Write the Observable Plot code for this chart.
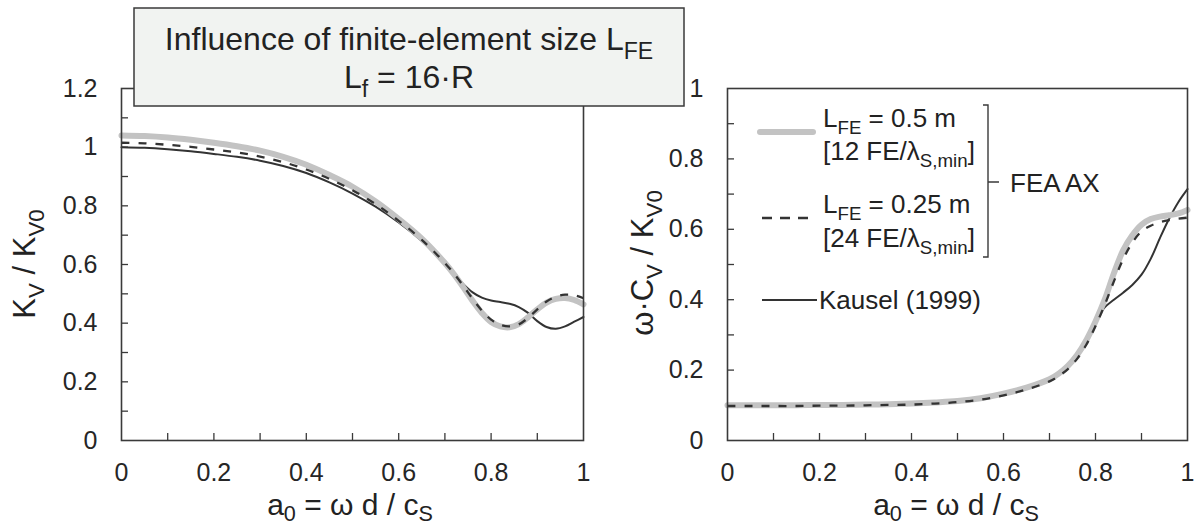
<!DOCTYPE html>
<html><head><meta charset="utf-8">
<script src="https://cdn.jsdelivr.net/npm/d3@7"></script>
<script src="https://cdn.jsdelivr.net/npm/@observablehq/plot@0.6"></script>
<style>
html,body{margin:0;padding:0;background:#fff;}
#wrap{position:relative;width:1197px;height:529px;overflow:hidden;font-family:"Liberation Sans",Arial,Helvetica,sans-serif;}
#left,#right,#over{position:absolute;top:0;}
#left{left:0}
#right{left:600px}
#over{left:0;pointer-events:none}
#over text{white-space:pre}
</style></head><body><div id="wrap"><div id="left"></div><div id="right"></div><svg id="over" width="1197" height="529"></svg></div>
<script>
// dimensionless frequency a0
const a0 = [0,0.05,0.1,0.15,0.2,0.25,0.3,0.35,0.4,0.45,0.5,0.55,0.6,0.65,0.7,0.72,0.74,0.76,0.78,0.8,0.82,0.84,0.86,0.88,0.9,0.92,0.94,0.96,0.98,1.0];

// Left panel: K_V / K_V0
const kFE05   = [1.040,1.038,1.033,1.025,1.015,1.003,0.988,0.967,0.940,0.905,0.865,0.815,0.755,0.688,0.605,0.566,0.522,0.476,0.435,0.404,0.389,0.386,0.397,0.420,0.447,0.470,0.483,0.486,0.479,0.464];
const kFE025  = [1.015,1.013,1.008,1.001,0.992,0.982,0.968,0.949,0.924,0.892,0.853,0.806,0.749,0.684,0.605,0.568,0.527,0.483,0.443,0.412,0.394,0.389,0.396,0.418,0.447,0.474,0.490,0.497,0.495,0.485];
const kKausel = [1.000,0.998,0.993,0.986,0.977,0.967,0.954,0.936,0.912,0.880,0.842,0.797,0.743,0.680,0.605,0.568,0.533,0.505,0.487,0.477,0.472,0.466,0.455,0.435,0.407,0.387,0.381,0.389,0.405,0.421];

// Right panel: omega*C_V / K_V0
const cFE05   = [0.100,0.100,0.100,0.100,0.101,0.101,0.102,0.103,0.105,0.108,0.112,0.120,0.133,0.150,0.174,0.190,0.212,0.243,0.285,0.338,0.400,0.475,0.540,0.583,0.613,0.629,0.636,0.640,0.645,0.655];
const cFE025  = [0.098,0.098,0.098,0.098,0.099,0.099,0.100,0.101,0.102,0.105,0.109,0.116,0.128,0.145,0.168,0.183,0.203,0.232,0.272,0.325,0.385,0.452,0.515,0.562,0.594,0.610,0.620,0.626,0.630,0.633];
const cKausel = [0.100,0.100,0.100,0.100,0.101,0.101,0.102,0.103,0.105,0.108,0.112,0.120,0.133,0.150,0.174,0.190,0.212,0.243,0.285,0.335,0.378,0.400,0.420,0.442,0.471,0.516,0.575,0.630,0.677,0.714];

// ticks
const xTicks = [0,0.2,0.4,0.6,0.8,1];
const xMinor = [0.1,0.2,0.3,0.4,0.5,0.6,0.7,0.8,0.9];
const kTicks = [0,0.2,0.4,0.6,0.8,1,1.2];
const kMinor = [0.1,0.2,0.3,0.4,0.5,0.6,0.7,0.8,0.9,1.0,1.1];
const cTicks = [0,0.2,0.4,0.6,0.8,1];
const cMinor = [0.1,0.2,0.3,0.4,0.5,0.6,0.7,0.8,0.9];

const fmt = d3.format("~g");
const H = 529, MT = 88, MB = 89;

function panel({width, marginLeft, marginRight, yDomain, yTicks, yMinor, fe05, fe025, kausel}) {
  const rows = vals => a0.map((a, i) => ({a, v: vals[i]}));
  const fw = width - marginLeft - marginRight, fh = H - MT - MB;
  return Plot.plot({
    width, height: H, marginLeft, marginRight, marginTop: MT, marginBottom: MB,
    style: {fontFamily: "'Liberation Sans', Arial, sans-serif", color: "#262626", background: "transparent", overflow: "visible"},
    x: {domain: [0, 1]},
    y: {domain: yDomain},
    marks: [
      Plot.ruleX(xMinor, {x: d => d, insetTop: fh - 7, stroke: "#3a3a3a", strokeWidth: 1.3}),
      Plot.ruleY(yMinor, {y: d => d, insetRight: fw - 7, stroke: "#3a3a3a", strokeWidth: 1.3}),
      Plot.axisX({ticks: xTicks, tickSize: 0, tickPadding: 23, tickFormat: fmt, fontSize: 25, label: null}),
      Plot.axisY({ticks: yTicks, tickSize: 0, tickPadding: 24, tickFormat: fmt, fontSize: 25, label: null}),
      Plot.line(rows(kausel), {x: "a", y: "v", stroke: "#333", strokeWidth: 2, curve: "catmull-rom"}),
      Plot.line(rows(fe05), {x: "a", y: "v", stroke: "#c3c3c3", strokeWidth: 6, curve: "catmull-rom"}),
      Plot.line(rows(fe025), {x: "a", y: "v", stroke: "#333", strokeWidth: 2.3, strokeDasharray: "8,9", strokeLinecap: "butt", curve: "catmull-rom"}),
      Plot.frame({stroke: "#3a3a3a", strokeWidth: 1.6})
    ]
  });
}

document.getElementById("left").append(panel({width: 600, marginLeft: 121, marginRight: 17, yDomain: [0, 1.2], yTicks: kTicks, yMinor: kMinor, fe05: kFE05, fe025: kFE025, kausel: kKausel}));
document.getElementById("right").append(panel({width: 597, marginLeft: 127, marginRight: 10, yDomain: [0, 1], yTicks: cTicks, yMinor: cMinor, fe05: cFE05, fe025: cFE025, kausel: cKausel}));

// overlay: title box, axis titles, legend
const svg = d3.select("#over");
function rich(g, x, y, parts, size, anchor, subShift) {
  const t = g.append("text").attr("x", x).attr("y", y).attr("font-size", size)
    .attr("text-anchor", anchor || "start").attr("fill", "#222")
    .attr("font-family", "'Liberation Sans', Arial, sans-serif");
  let shift = 0;
  for (const p of parts) {
    const s = typeof p === "string" ? {t: p} : p;
    const want = s.sub ? size * (subShift || 0.28) : 0;
    const ts = t.append("tspan").text(s.t);
    if (s.sub) ts.attr("font-size", size * 0.72);
    if (want !== shift) { ts.attr("dy", want - shift); shift = want; }
  }
  return t;
}

svg.append("rect").attr("x", 134).attr("y", 8).attr("width", 550).attr("height", 98)
  .attr("fill", "#f1f3f1").attr("stroke", "#3a3a3a").attr("stroke-width", 1.5);
rich(svg, 409, 50, ["Influence of finite-element size L", {t: "FE", sub: true}], 32, "middle");
rich(svg, 409, 88, ["L", {t: "f", sub: true}, " = 16·R"], 32, "middle");

rich(svg.append("g").attr("transform", "translate(35,264) rotate(-90)"), 0, 0,
  ["K", {t: "V", sub: true}, " / K", {t: "V0", sub: true}], 31, "middle");
rich(svg.append("g").attr("transform", "translate(653,263) rotate(-90)"), 0, 0,
  ["ω·C", {t: "V", sub: true}, " / K", {t: "V0", sub: true}], 31, "middle");
rich(svg, 350, 515, ["a", {t: "0", sub: true}, " = ω d / c", {t: "S", sub: true}], 30, "middle", 0.2);
rich(svg, 956, 515, ["a", {t: "0", sub: true}, " = ω d / c", {t: "S", sub: true}], 30, "middle", 0.2);

// legend
svg.append("line").attr("x1", 760).attr("x2", 813).attr("y1", 132).attr("y2", 132)
  .attr("stroke", "#c3c3c3").attr("stroke-width", 6).attr("stroke-linecap", "round");
rich(svg, 823, 127, ["L", {t: "FE", sub: true}, " = 0.5 m"], 26);
rich(svg, 823, 160, ["[12 FE/λ", {t: "S,min", sub: true}, "]"], 26);
svg.append("line").attr("x1", 762).attr("x2", 810).attr("y1", 218).attr("y2", 218)
  .attr("stroke", "#333").attr("stroke-width", 2.3).attr("stroke-dasharray", "10,8");
rich(svg, 823, 213, ["L", {t: "FE", sub: true}, " = 0.25 m"], 26);
rich(svg, 823, 247, ["[24 FE/λ", {t: "S,min", sub: true}, "]"], 26);
svg.append("line").attr("x1", 762).attr("x2", 817).attr("y1", 300).attr("y2", 300)
  .attr("stroke", "#333").attr("stroke-width", 2);
rich(svg, 819, 309, ["Kausel (1999)"], 26);
svg.append("path").attr("d", "M983,105H988V257H983M988,182H999")
  .attr("fill", "none").attr("stroke", "#3a3a3a").attr("stroke-width", 1.4);
rich(svg, 1010, 192, ["FEA AX"], 26);
</script>
</body></html>
